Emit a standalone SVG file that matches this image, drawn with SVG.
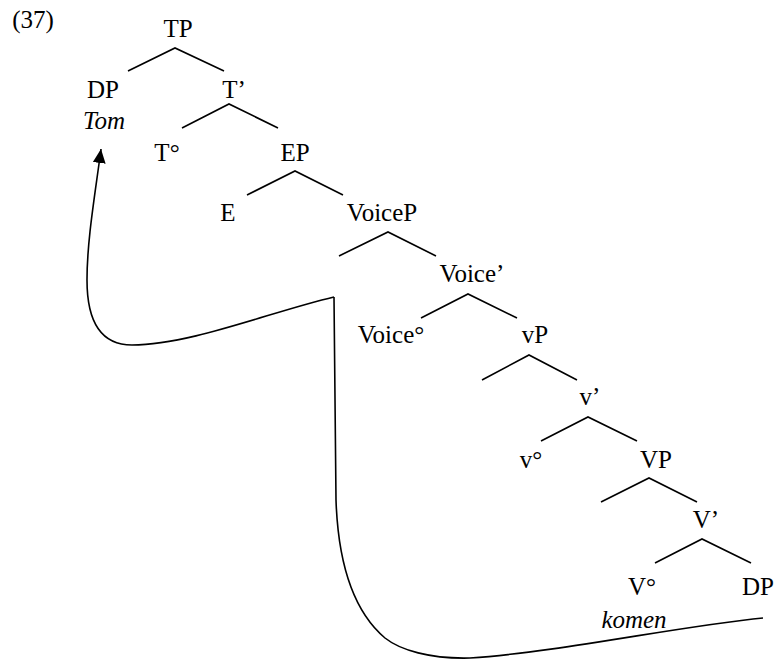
<svg xmlns="http://www.w3.org/2000/svg" width="784" height="660" viewBox="0 0 784 660" font-family="Liberation Serif, DejaVu Serif, serif">
<style>
text{font-size:25px;fill:#000;text-anchor:middle}
.it{font-style:italic}
.br{fill:none;stroke:#000;stroke-width:1.6}
.mv{fill:none;stroke:#000;stroke-width:1.6}
</style>
<defs>
<marker id="ah" markerUnits="userSpaceOnUse" viewBox="0 0 14 13" refX="14" refY="6.5" markerWidth="14" markerHeight="13" orient="auto">
<path d="M0,0 L14,6.5 L0,13 z" fill="#000"/>
</marker>
</defs>
<text x="33" y="28">(37)</text>
<g id="TP"><text x="178" y="37">TP</text><path class="br" d="M128,71 L175,48 L224,71"/></g>
<g id="DP1"><text x="103" y="98">DP</text><text class="it" x="104" y="129">Tom</text></g>
<g id="Tbar"><text x="234" y="98">T’</text><path class="br" d="M182,128 L229,104 L278,128"/></g>
<g id="T0"><text x="167" y="161">T°</text></g>
<g id="EP"><text x="295" y="161">EP</text><path class="br" d="M247,195 L295,171 L343,195"/></g>
<g id="E"><text x="228" y="221">E</text></g>
<g id="VoiceP"><text x="382" y="221">VoiceP</text><path class="br" d="M339,256 L388,232 L436,256"/></g>
<g id="Voicebar"><text x="472" y="282">Voice’</text><path class="br" d="M421,318 L468,294 L517,318"/></g>
<g id="Voice0"><text x="391" y="343">Voice°</text></g>
<g id="vP"><text x="535" y="343">vP</text><path class="br" d="M482,380 L529,355 L577,380"/></g>
<g id="vbar"><text x="590" y="405">v’</text><path class="br" d="M541,441 L588,417 L637,441"/></g>
<g id="v0"><text x="531" y="468">v°</text></g>
<g id="VP"><text x="656" y="468">VP</text><path class="br" d="M601,502 L649,478 L697,502"/></g>
<g id="Vbar"><text x="706" y="528">V’</text><path class="br" d="M655,563 L702,539 L751,563"/></g>
<g id="V0"><text x="642" y="595">V°</text><text class="it" x="634" y="628">komen</text></g>
<g id="DP2"><text x="758" y="595">DP</text></g>
<g id="connectors">
<path class="mv" d="M763,618 C680,626 560,652 470,658 C430,659 400,650 385,638 C352,610 338,560 336,500 L334,297"/>
<path class="mv" marker-end="url(#ah)" d="M334,297 C270,312 190,345 132,345 C100,345 87,320 87,280 C87,240 95,195 101,149"/>
</g>
</svg>
